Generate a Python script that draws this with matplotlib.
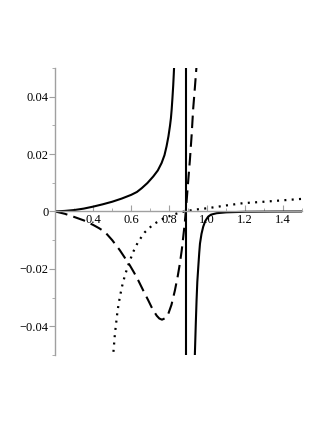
import numpy as np
import matplotlib
matplotlib.use("Agg")
import matplotlib.pyplot as plt
from matplotlib.ticker import MultipleLocator, FixedLocator

# solid curve, left branch
solid_left_x = [0.20, 0.25, 0.30, 0.35, 0.40, 0.45, 0.50, 0.55, 0.60, 0.63, 0.655, 0.685, 0.716, 0.74, 0.76, 0.775, 0.786, 0.796, 0.804, 0.809, 0.813, 0.817, 0.821, 0.824, 0.826, 0.828]
solid_left_y = [0.0, 0.0002, 0.0005, 0.0010, 0.0017, 0.0025, 0.0034, 0.0045, 0.0058, 0.0068, 0.0081, 0.0099, 0.0122, 0.0143, 0.0169, 0.0196, 0.0227, 0.0262, 0.0298, 0.0325, 0.0356, 0.0395, 0.0438, 0.0478, 0.0508, 0.056]
# solid curve, right branch
solid_right_x = [0.933, 0.935, 0.940, 0.944, 0.948, 0.953, 0.958, 0.962, 0.970, 0.979, 0.990, 1.005, 1.02, 1.05, 1.10, 1.20, 1.35, 1.50]
solid_right_y = [-0.056, -0.050, -0.039, -0.031, -0.0245, -0.0194, -0.0145, -0.0112, -0.0078, -0.0053, -0.0033, -0.0018, -0.0011, -0.0006, -0.0003, -0.0001, -0.00003, 0.0]
# vertical solid line
asym_x = 0.888

# dashed curve
dash_x = [0.20, 0.25, 0.295, 0.35, 0.40, 0.43, 0.461, 0.50, 0.54, 0.565, 0.593, 0.615, 0.637, 0.663, 0.69, 0.712, 0.734, 0.748, 0.762, 0.778, 0.795, 0.812, 0.83, 0.845, 0.856, 0.866, 0.874, 0.882, 0.888, 0.898, 0.909, 0.918, 0.926, 0.935, 0.944, 0.947]
dash_y = [0.0, -0.0008, -0.0018, -0.0031, -0.0047, -0.0058, -0.0071, -0.0100, -0.0135, -0.0160, -0.0188, -0.0213, -0.0240, -0.0275, -0.0310, -0.0340, -0.0363, -0.0373, -0.0377, -0.0372, -0.0357, -0.0325, -0.0275, -0.0225, -0.0182, -0.0135, -0.0088, -0.0040, 0.0005, 0.0090, 0.0180, 0.0265, 0.0356, 0.0430, 0.0508, 0.054]

# dotted curve
dot_x = [0.503, 0.505, 0.514, 0.528, 0.540, 0.552, 0.567, 0.588, 0.611, 0.637, 0.672, 0.716, 0.768, 0.83, 0.88, 0.93, 0.997, 1.05, 1.10, 1.19, 1.30, 1.40, 1.50]
dot_y = [-0.054, -0.050, -0.0427, -0.0346, -0.0298, -0.0260, -0.0222, -0.0180, -0.0140, -0.0105, -0.0072, -0.0045, -0.0025, -0.0009, 0.0, 0.0006, 0.0011, 0.0016, 0.0021, 0.0029, 0.0034, 0.0039, 0.0044]

plt.rcParams['font.family'] = ['Liberation Serif', 'DejaVu Serif']
fig = plt.figure(figsize=(3.27, 4.23), dpi=100)
ax = fig.add_axes([0.169, 0.1608, 0.755, 0.6785])

ax.plot(solid_left_x, solid_left_y, color="black", lw=1.5)
ax.plot(solid_right_x, solid_right_y, color="black", lw=1.5)
ax.plot([asym_x, asym_x], [-0.06, 0.06], color="black", lw=1.5)
ax.plot(dash_x, dash_y, color="black", lw=1.5, dashes=(6, 3))
ax.plot(dot_x, dot_y, color="black", lw=1.6, dashes=(0.9, 2.4))

ax.set_xlim(0.2, 1.5)
ax.set_ylim(-0.05, 0.05)

grey = "#a0a0a0"
for s in ["top", "right"]:
    ax.spines[s].set_visible(False)
ax.spines["left"].set_color(grey)
ax.spines["bottom"].set_color(grey)
ax.spines["bottom"].set_position(("data", 0))
ax.spines["left"].set_linewidth(1.0)
ax.spines["bottom"].set_linewidth(1.0)

ax.xaxis.set_major_locator(FixedLocator([0.4, 0.6, 0.8, 1.0, 1.2, 1.4]))
ax.xaxis.set_minor_locator(FixedLocator([0.3, 0.5, 0.7, 0.9, 1.1, 1.3, 1.5]))
ax.yaxis.set_major_locator(MultipleLocator(0.02))
ax.yaxis.set_minor_locator(MultipleLocator(0.01))
ax.set_xticklabels(["0.4", "0.6", "0.8", "1.0", "1.2", "1.4"])
ax.yaxis.set_major_formatter(plt.FuncFormatter(lambda v, p: "0" if abs(v) < 1e-9 else ("%.2f" % v).replace("-", "\u2212")))

ax.tick_params(axis="x", which="major", direction="in", length=4, color=grey, labelsize=9, pad=2)
ax.tick_params(axis="x", which="minor", direction="in", length=2.5, color=grey)
ax.tick_params(axis="y", which="major", direction="out", length=4, color=grey, labelsize=9, pad=1)
ax.tick_params(axis="y", which="minor", direction="out", length=2.5, color=grey)

fig.savefig("out.png", dpi=100)
